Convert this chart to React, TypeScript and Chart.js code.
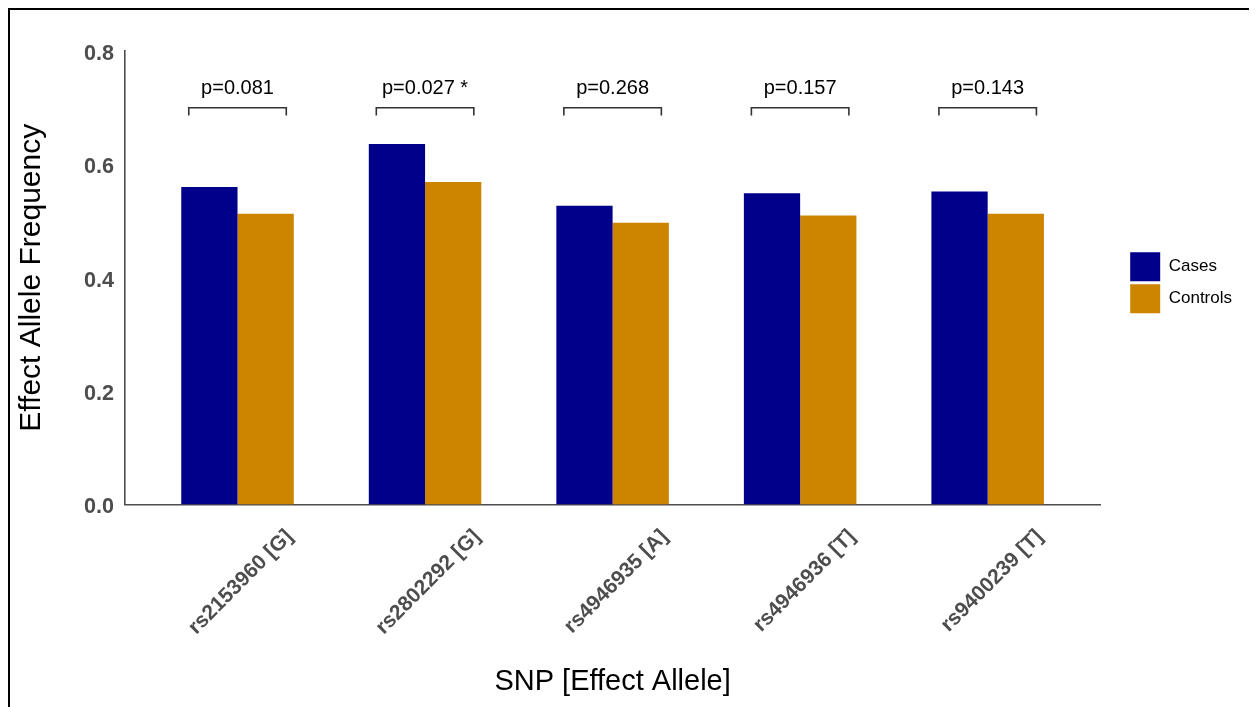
import React, { useEffect, useRef } from "react";
import { Chart, registerables } from "chart.js";

Chart.register(...registerables);

const categories = ["rs2153960 [G]", "rs2802292 [G]", "rs4946935 [A]", "rs4946936 [T]", "rs9400239 [T]"];
const seriesNames = ["Cases", "Controls"];
const casesValues = [0.56, 0.636, 0.527, 0.549, 0.552];
const controlsValues = [0.513, 0.569, 0.497, 0.51, 0.513];
const pLabels = ["p=0.081", "p=0.027 *", "p=0.268", "p=0.157", "p=0.143"];
const yTicks = [0, 0.2, 0.4, 0.6, 0.8];
const bracketLevel = 0.7;
const bracketDrop = 0.0136;
const pLabelLevel = 0.733;
const bracketHalfWidth = 0.26;

const FONT = "'Liberation Sans', Arial, Helvetica, sans-serif";

const bracketPlugin = {
  id: "pBrackets",
  afterDatasetsDraw(chart: any) {
    const { ctx } = chart;
    const x = chart.scales.x;
    const y = chart.scales.y;
    ctx.save();
    ctx.strokeStyle = "#333333";
    ctx.lineWidth = 1.6;
    ctx.fillStyle = "#000000";
    ctx.font = `20px ${FONT}`;
    ctx.textAlign = "center";
    ctx.textBaseline = "middle";
    pLabels.forEach((label, i) => {
      const x0 = x.getPixelForValue(i - bracketHalfWidth);
      const x1 = x.getPixelForValue(i + bracketHalfWidth);
      const yTop = y.getPixelForValue(bracketLevel);
      const yBot = y.getPixelForValue(bracketLevel - bracketDrop);
      ctx.beginPath();
      ctx.moveTo(x0, yBot);
      ctx.lineTo(x0, yTop);
      ctx.lineTo(x1, yTop);
      ctx.lineTo(x1, yBot);
      ctx.stroke();
      ctx.fillText(label, (x0 + x1) / 2, y.getPixelForValue(pLabelLevel));
    });
    ctx.restore();
  },
};

const legendShiftPlugin = {
  id: "legendShift",
  afterLayout(chart: any) {
    const lg = chart.legend;
    if (!lg) return;
    const w = lg.right - lg.left;
    lg.left = chart.chartArea.right + 27;
    lg.right = lg.left + w;
    lg.top += 5;
    lg.bottom += 5;
  },
};

export default function App() {
  const canvasRef = useRef<HTMLCanvasElement | null>(null);

  useEffect(() => {
    if (!canvasRef.current) return;
    Chart.defaults.font.family = FONT;
    const chart = new Chart(canvasRef.current, {
      type: "bar",
      data: {
        datasets: [
          {
            label: seriesNames[0],
            data: casesValues.map((v, i) => ({ x: i, y: v })),
            backgroundColor: "#00008B",
            borderWidth: 0,
            categoryPercentage: 0.6,
            barPercentage: 1.0,
          },
          {
            label: seriesNames[1],
            data: controlsValues.map((v, i) => ({ x: i, y: v })),
            backgroundColor: "#CD8500",
            borderWidth: 0,
            categoryPercentage: 0.6,
            barPercentage: 1.0,
          },
        ],
      },
      options: {
        animation: false,
        responsive: true,
        maintainAspectRatio: false,
        layout: { padding: { left: 0, top: 41, right: 35, bottom: 0 } },
        plugins: {
          tooltip: { enabled: false },
          legend: {
            position: "right",
            fullSize: false,
            align: "center",
            labels: {
              boxWidth: 30,
              boxHeight: 29,
              padding: 3,
              color: "#000000",
              font: { size: 17, family: FONT },
            },
          },
        },
        scales: {
          x: {
            type: "linear",
            min: -0.6,
            max: 4.6,
            offset: false,
            grid: { display: false, drawTicks: false },
            border: { display: true, color: "#4d4d4d", width: 1.6 },
            afterBuildTicks: (scale: any) => {
              scale.ticks = categories.map((_, i) => ({ value: i }));
            },
            afterFit: (scale: any) => {
              scale.height = 202.5;
            },
            ticks: {
              autoSkip: false,
              minRotation: 45,
              maxRotation: 45,
              padding: 20,
              labelOffset: 52,
              color: "#4d4d4d",
              font: { size: 21, weight: "bold", family: FONT },
              callback: (v: any) => categories[v] ?? "",
            },
            title: {
              display: true,
              text: "SNP [Effect Allele]",
              color: "#000000",
              font: { size: 29, family: FONT },
              padding: { top: 0, bottom: 7.6 },
            },
          },
          y: {
            min: 0,
            max: 0.8,
            grid: { display: false, drawTicks: false },
            border: { display: true, color: "#4d4d4d", width: 1.6 },
            afterBuildTicks: (scale: any) => {
              scale.ticks = yTicks.map((v) => ({ value: v }));
            },
            afterFit: (scale: any) => {
              scale.width = 115;
            },
            ticks: {
              padding: 11,
              labelOffset: 3,
              color: "#4d4d4d",
              font: { size: 21.6, weight: "bold", family: FONT },
              callback: (v: any) => Number(v).toFixed(1),
            },
            title: {
              display: true,
              text: "Effect Allele Frequency",
              color: "#000000",
              font: { size: 30, family: FONT },
              padding: { top: 4, bottom: 0 },
            },
          },
        },
      },
      plugins: [bracketPlugin, legendShiftPlugin],
    });
    return () => chart.destroy();
  }, []);

  return (
    <div
      style={{
        marginLeft: -1,
        marginTop: -1,
        borderTop: "3px solid #000",
        borderLeft: "3px solid #000",
        width: 1240,
        height: 697,
        position: "relative",
        background: "#fff",
      }}
    >
      <canvas ref={canvasRef} />
    </div>
  );
}
